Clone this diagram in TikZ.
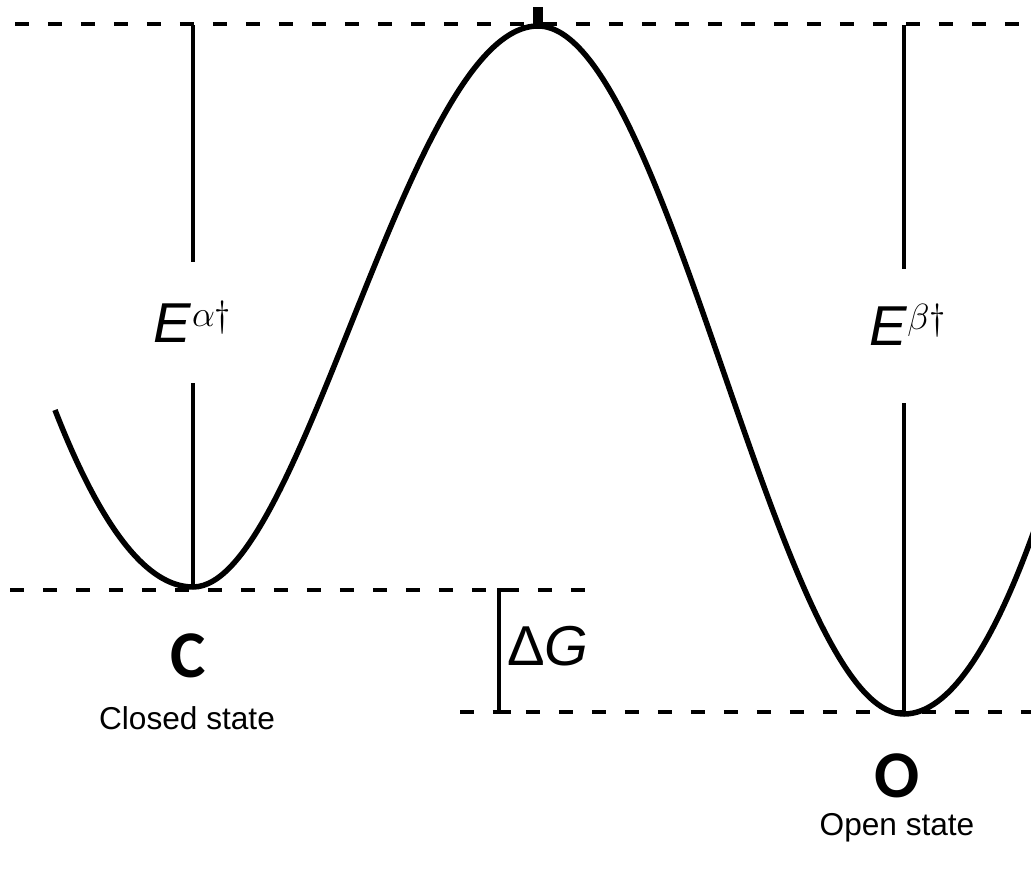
\documentclass[tikz,border=0pt]{standalone}
\usepackage{fontspec}
\setmainfont{Liberation Sans}
\newfontfamily\statefont{Carlito}
\usetikzlibrary{positioning}

\tikzset{
  level/.style={line width=0.08cm,dash pattern=on 0.28cm off 0.38cm},
  barrier/.style={line width=0.11cm,line join=round},
  gapline/.style={line width=0.075cm},
  elabel/.style={inner sep=0pt,font=\fontsize{32}{38}\selectfont},
  statelabel/.style={inner sep=0pt,font=\statefont\bfseries\fontsize{38}{44}\selectfont},
  statename/.style={inner sep=0pt,font=\fontsize{18}{22}\selectfont},
}

\begin{document}
\begin{tikzpicture}[x=0.02cm,y=-0.02cm]
  \useasboundingbox (0,0) rectangle (1031,872);

  % energy levels
  \draw[level] (15,24) -- (1031,24);
  \draw[level] (10,590) -- (585,590);
  \draw[level] (460,712) -- (1031,712);

  \coordinate (cmin) at (193,587);
  \coordinate (peak) at (538,26);
  \coordinate (omin) at (904,714);

  % the free energy profile
  \begin{scope}
    \clip (0,0) rectangle (1031,872);
    \draw[barrier] (55,410) .. controls (101,528) and (147,587) .. (cmin)
      .. controls (303,587) and (408,26) .. (peak)
      .. controls (668,26) and (779,714) .. (omin)
      .. controls (949,714) and (995,646) .. (1041,511);
  \end{scope}

  \coordinate (peaktop) at (538,7);
  \draw[line width=0.2cm] (peaktop) -- (peak);

  % barrier heights
  \coordinate (ctop) at (193,25);
  \coordinate (otop) at (904,25);
  \node[elabel] (ealpha) at (193,322) {\textit{E}$^{\alpha\dagger}$};
  \node[elabel] (ebeta) at (908,325) {\textit{E}$^{\beta\dagger}$};
  \draw[gapline] (ctop) -- (193,262);
  \draw[gapline] (193,383) -- (cmin);
  \draw[gapline] (otop) -- (904,269);
  \draw[gapline] (904,403) -- (omin);

  % free energy difference
  \coordinate (dgtop) at (499,590);
  \coordinate (dgbot) at (499,712);
  \draw[gapline] ([xshift=0.24cm]dgtop) -- (dgtop) -- (dgbot) -- ([xshift=0.24cm]dgbot);
  \node[elabel,anchor=west] (dg) at (507,646) {Δ\textit{G}};

  % states
  \node[statelabel] (closedC) at (188,656) {C};
  \node[statename] (closedtxt) at (187,718) {Closed state};
  \node[statelabel] (openO) at (897,776) {O};
  \node[statename] (opentxt) at (897,828) {Open state};
\end{tikzpicture}
\end{document}
